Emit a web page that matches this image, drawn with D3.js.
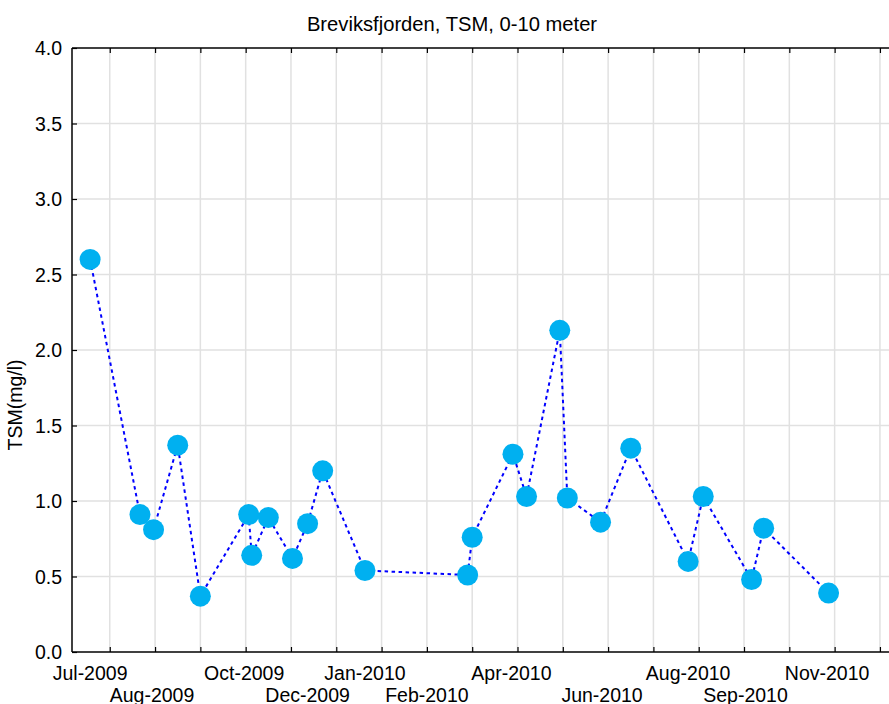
<!DOCTYPE html>
<html>
<head>
<meta charset="utf-8">
<title>Breviksfjorden, TSM</title>
<script src="https://cdn.jsdelivr.net/npm/d3@7"></script>
<style>
  body { margin: 0; background: #fff; }
  svg { display: block; font-family: "Liberation Sans", Arial, sans-serif; }
</style>
</head>
<body>
<div id="chart"></div>
<script>
// sampling dates and TSM values (mg/l)
var sampleDates = ["2009-07-10","2009-08-12","2009-08-21","2009-09-06","2009-09-21",
  "2009-10-23","2009-10-25","2009-11-05","2009-11-21","2009-12-01","2009-12-11",
  "2010-01-08","2010-03-17","2010-03-20","2010-04-16","2010-04-25","2010-05-17",
  "2010-05-22","2010-06-13","2010-07-03","2010-08-10","2010-08-20","2010-09-21",
  "2010-09-29","2010-11-11"];
var tsmValues = [2.60, 0.91, 0.81, 1.37, 0.37, 0.91, 0.64, 0.89, 0.62, 0.85, 1.20,
  0.54, 0.51, 0.76, 1.31, 1.03, 2.13, 1.02, 0.86, 1.35, 0.60, 1.03, 0.48, 0.82, 0.39];

// x tick labels (dates they sit under) as in the original
var labelDates = ["2009-07-10","2009-08-20","2009-10-20","2009-12-01","2010-01-08",
  "2010-02-18","2010-04-15","2010-06-14","2010-08-10","2010-09-17","2010-11-10"];
var labelTexts = ["Jul-2009","Aug-2009","Oct-2009","Dec-2009","Jan-2010","Feb-2010",
  "Apr-2010","Jun-2010","Aug-2010","Sep-2010","Nov-2010"];

var yTicks = [0, 0.5, 1, 1.5, 2, 2.5, 3, 3.5, 4];

var W = 889, H = 704;
var pLeft = 72, pRight = 889, pTop = 48, pBottom = 652;

var parse = d3.utcParse("%Y-%m-%d");
var data = sampleDates.map(function(d, i) { return {date: parse(d), v: tsmValues[i]}; });

var svg = d3.select("#chart").append("svg")
    .attr("width", W).attr("height", H);

var x = d3.scaleUtc()
    .domain([parse("2009-06-28"), parse("2010-12-21")])
    .range([pLeft, pRight]);
var y = d3.scaleLinear().domain([0, 4]).range([pBottom, pTop]);

// vertical grid every 30 days
var gridDates = d3.utcDay.range(parse("2009-07-23"), parse("2010-12-20"), 30);

svg.append("g").selectAll("line").data(gridDates).enter().append("line")
    .attr("x1", function(d) { return x(d); }).attr("x2", function(d) { return x(d); })
    .attr("y1", pTop).attr("y2", pBottom)
    .attr("stroke", "#e1e1e1").attr("stroke-width", 1.5);

svg.append("g").selectAll("line").data(yTicks.slice(1, -1)).enter().append("line")
    .attr("x1", pLeft).attr("x2", pRight)
    .attr("y1", function(d) { return y(d); }).attr("y2", function(d) { return y(d); })
    .attr("stroke", "#e1e1e1").attr("stroke-width", 1.5);

// axes with inward ticks
var yAxis = svg.append("g")
    .attr("transform", "translate(" + pLeft + ",0)")
    .call(d3.axisRight(y).tickValues(yTicks).tickSize(5).tickFormat(""));
yAxis.select(".domain").remove();
yAxis.selectAll(".tick line").attr("stroke", "#000").attr("stroke-width", 1.2);

var xAxisB = svg.append("g")
    .attr("transform", "translate(0," + pBottom + ")")
    .call(d3.axisTop(x).tickValues(gridDates).tickSize(5).tickFormat(""));
xAxisB.select(".domain").remove();
xAxisB.selectAll(".tick line").attr("stroke", "#000").attr("stroke-width", 1.2);

var xAxisT = svg.append("g")
    .attr("transform", "translate(0," + pTop + ")")
    .call(d3.axisBottom(x).tickValues(gridDates).tickSize(5).tickFormat(""));
xAxisT.select(".domain").remove();
xAxisT.selectAll(".tick line").attr("stroke", "#000").attr("stroke-width", 1.2);

// frame lines
svg.append("line").attr("x1", pLeft).attr("x2", pRight).attr("y1", pBottom).attr("y2", pBottom)
    .attr("stroke", "#000").attr("stroke-width", 1.5);
svg.append("line").attr("x1", pLeft).attr("x2", pRight).attr("y1", pTop).attr("y2", pTop)
    .attr("stroke", "#000").attr("stroke-width", 1.5);
svg.append("line").attr("x1", pLeft).attr("x2", pLeft).attr("y1", pTop).attr("y2", pBottom)
    .attr("stroke", "#000").attr("stroke-width", 1.5);

// y tick labels
svg.append("g").selectAll("text").data(yTicks).enter().append("text")
    .attr("x", pLeft - 10).attr("y", function(d) { return y(d); })
    .attr("dy", "0.36em")
    .attr("text-anchor", "end")
    .style("font-size", "19.5px")
    .text(d3.format(".1f"));

// x tick labels, staggered in two rows
svg.append("g").selectAll("text").data(labelDates).enter().append("text")
    .attr("x", function(d) { return x(parse(d)); })
    .attr("y", function(d, i) { return i % 2 ? 702 : 679.5; })
    .attr("text-anchor", "middle")
    .style("font-size", "19.5px")
    .text(function(d, i) { return labelTexts[i]; });

// dotted line + markers
var line = d3.line()
    .x(function(d) { return x(d.date); })
    .y(function(d) { return y(d.v); });

svg.append("path").datum(data)
    .attr("d", line)
    .attr("fill", "none")
    .attr("stroke", "#0000ff")
    .attr("stroke-width", 2)
    .attr("stroke-dasharray", "3.5,3.5");

svg.append("g").selectAll("circle").data(data).enter().append("circle")
    .attr("cx", function(d) { return x(d.date); })
    .attr("cy", function(d) { return y(d.v); })
    .attr("r", 10.5)
    .attr("fill", "#00b0f0");

// title and y label
svg.append("text")
    .attr("x", 452).attr("y", 31)
    .attr("text-anchor", "middle")
    .style("font-size", "20.2px")
    .text("Breviksfjorden, TSM, 0-10 meter");

svg.append("text")
    .attr("transform", "translate(22,405) rotate(-90)")
    .attr("text-anchor", "middle")
    .style("font-size", "19.5px")
    .text("TSM(mg/l)");
</script>
</body>
</html>
